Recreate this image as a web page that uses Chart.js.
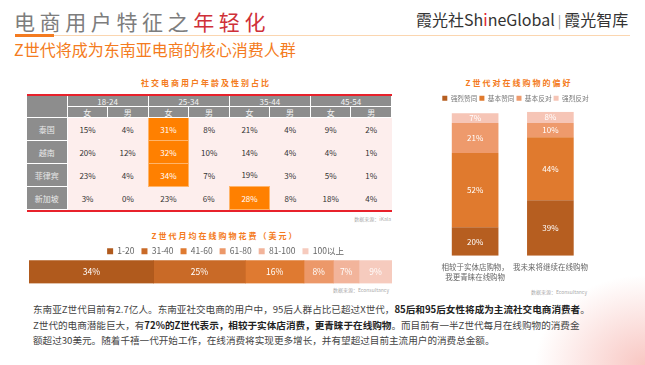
<!DOCTYPE html>
<html>
<head>
<meta charset="utf-8">
<script src="https://cdn.jsdelivr.net/npm/chart.js@4.4.0/dist/chart.umd.min.js"></script>
<style>
  html, body { margin: 0; padding: 0; }
  body {
    width: 645px; height: 365px; position: relative; overflow: hidden;
    background: radial-gradient(ellipse 110px 90px at 645px 365px, rgba(240,130,120,0.45), rgba(255,255,255,0) 100%), #fff;
    font-family: "Noto Sans CJK SC", "Noto Sans", sans-serif;
  }
  .abs { position: absolute; white-space: nowrap; }
  #title { left: 14px; top: 7px; font-size: 21px; letter-spacing: 4.6px; color: #7d7d7d; line-height: 28px; }
  #title span { color: #cf3038; }
  #logo { left: 416px; top: 8px; font-size: 16px; color: #333; line-height: 22px; }
  #logo .i { color: #e0242c; }
  #logo .sep { color: #999; font-size: 13px; margin: 0 3px; }
  #rule { left: 15px; top: 35px; width: 615px; height: 1px; background: #fbd6b0; }
  #ruleMark { left: 15px; top: 34px; width: 39px; height: 3px; background: #f47b20; }
  #subtitle { left: 14px; top: 38px; font-size: 16px; color: #f47b20; line-height: 22px; }
  .ctitle { font-size: 8px; font-weight: bold; color: #f47b20; letter-spacing: 2px; line-height: 10px; transform: translateX(-50%); }
  .src { font-size: 5px; color: #aaa; line-height: 6px; transform: translateX(-100%); }
  #tableWrap { left: 27px; top: 94px; width: 365px; border-top: 2px solid #e8212b; border-bottom: 2px solid #e8212b; }
  table { border-collapse: collapse; table-layout: fixed; width: 365px; font-size: 8px; }
  td { padding: 0; text-align: center; line-height: 9px; }
  td.hd { background: #8d8d8d; color: #f2f2f2; height: 10px; border: 1px solid #fff; border-top: 0; }
  td.rh { background: #8d8d8d; color: #e8e8e8; height: 22px; border: 1px solid #fff; border-left: 0; }
  td.cell { background: #fdeeed; color: #333; height: 22px; }
  td.hot { background: #ff8000; color: #fff; border: 1px solid #ffb469; }
  #para { left: 33px; top: 302px; font-size: 9.6px; line-height: 15.7px; color: #444; }
  #para b { color: #222; }
</style>
</head>
<body>
<div class="abs" id="title">电商用户特征之<span>年轻化</span></div>
<div class="abs" id="logo">霞光社Sh<span class="i">i</span>neGlobal<span class="sep">|</span>霞光智库</div>
<div class="abs" id="rule"></div>
<div class="abs" id="ruleMark"></div>
<div class="abs" id="subtitle">Z世代将成为东南亚电商的核心消费人群</div>

<div class="abs ctitle" style="left:206px; top:78px;">社交电商用户年龄及性别占比</div>
<div class="abs" id="tableWrap"><table id="shareTable"></table></div>
<div class="abs src" style="left:391px; top:216px;">数据来源：iKala</div>

<div class="abs ctitle" style="left:225px; top:231px;">Z世代月均在线购物花费（美元）</div>
<div class="abs" style="left:27px; top:236.5px; width:367px; height:48.5px;"><canvas id="spendChart"></canvas></div>
<div class="abs src" style="left:389px; top:287px;">数据来源：Econsultancy</div>

<div class="abs ctitle" style="left:519px; top:78px;">Z世代对在线购物的偏好</div>
<div class="abs" style="left:435px; top:93.3px; width:159px; height:195px;"><canvas id="prefChart"></canvas></div>
<div class="abs src" style="left:587px; top:289px;">数据来源：Econsultancy</div>

<div class="abs" id="para">东南亚Z世代目前有2.7亿人。东南亚社交电商的用户中，95后人群占比已超过X世代，<b>85后和95后女性将成为主流社交电商消费者</b>。<br>Z世代的电商潜能巨大，有<b>72%的Z世代表示，相较于实体店消费，更青睐于在线购物</b>。而目前有一半Z世代每月在线购物的消费金<br>额超过30美元。随着千禧一代开始工作，在线消费将实现更多增长，并有望超过目前主流用户的消费总金额。</div>

<script>
// 表：年龄・性别
const ageGroups = ['18-24', '25-34', '35-44', '45-54'];
const genders = ['女', '男'];
const countries = ['泰国', '越南', '菲律宾', '新加坡'];
const shareThailand = [15, 4, 31, 8, 21, 4, 9, 2];
const shareVietnam = [20, 12, 32, 10, 14, 4, 4, 1];
const sharePhilippines = [23, 4, 34, 7, 19, 3, 5, 1];
const shareSingapore = [3, 0, 23, 6, 28, 8, 18, 4];

// 月均花费
const spendBands = ['1-20', '31-40', '41-60', '61-80', '81-100', '100以上'];
const spendShares = [34, 25, 16, 8, 7, 9];
const spendColors = ['#b05a1d', '#c96a27', '#df7a31', '#ec9869', '#f2b49b', '#f6cbbe'];

// 偏好
const prefCategories = [['相较于实体店购物，', '我更青睐在线购物'], '我未来将继续在线购物'];
const prefLevels = ['强烈赞同', '基本赞同', '基本反对', '强烈反对'];
const prefStrongAgree = [20, 39];
const prefAgree = [52, 44];
const prefDisagree = [21, 10];
const prefStrongDisagree = [7, 8];
const prefColors = ['#b65e20', '#e07a2e', '#ee9a6c', '#f6c5b6'];

// table
const shareRows = [shareThailand, shareVietnam, sharePhilippines, shareSingapore];
let html = '<colgroup><col style="width:40px">';
for (let i = 0; i < 8; i++) html += '<col>';
html += '</colgroup><tr><td class="hd" rowspan="2" style="border-left:0"></td>';
ageGroups.forEach(a => { html += '<td class="hd" colspan="2">' + a + '</td>'; });
html += '</tr><tr>';
ageGroups.forEach(() => genders.forEach(g => { html += '<td class="hd">' + g + '</td>'; }));
html += '</tr>';
shareRows.forEach((row, r) => {
    const top = Math.max(...row);
    html += '<tr><td class="rh">' + countries[r] + '</td>';
    row.forEach(v => {
        html += '<td class="cell' + (v === top ? ' hot' : '') + '">' + v + '%</td>';
    });
    html += '</tr>';
});
document.getElementById('shareTable').innerHTML = html;

Chart.defaults.font.family = '"Noto Sans CJK SC", "Noto Sans", sans-serif';
Chart.defaults.animation = false;

const barLabels = {
    id: 'barLabels',
    afterDatasetsDraw(chart, args, opts) {
        const ctx = chart.ctx;
        chart.data.datasets.forEach((ds, i) => {
            chart.getDatasetMeta(i).data.forEach((bar, j) => {
                const p = bar.getCenterPoint();
                ctx.save();
                ctx.fillStyle = '#fff';
                ctx.font = opts.size + 'px "Noto Sans CJK SC", sans-serif';
                ctx.textAlign = 'center';
                ctx.textBaseline = 'middle';
                ctx.fillText(ds.data[j] + '%', p.x, p.y);
                ctx.restore();
            });
        });
    }
};

// 凡例の位置を微調整
const legendShift = {
    id: 'legendShift',
    afterUpdate(chart, args, opts) {
        chart.legend.left += opts.dx;
        chart.legend.right += opts.dx;
        chart.legend.top += opts.dy;
        chart.legend.bottom += opts.dy;
    }
};

const spendChart = new Chart(document.getElementById('spendChart'), {
    type: 'bar',
    data: {
        labels: [''],
        datasets: spendBands.map((b, i) => ({
            label: b,
            data: [spendShares[i]],
            backgroundColor: spendColors[i],
            barPercentage: 1,
            categoryPercentage: 1,
        }))
    },
    options: {
        indexAxis: 'y',
        responsive: true,
        maintainAspectRatio: false,
        layout: { padding: { left: 2, right: 2, top: 0, bottom: 2 } },
        scales: {
            x: { stacked: true, display: false, min: 0, max: spendShares.reduce((a, b) => a + b, 0) },
            y: { stacked: true, display: false },
        },
        plugins: {
            legend: {
                labels: { boxWidth: 6, boxHeight: 6, padding: 7, color: '#666', font: { size: 8.5 } }
            },
            tooltip: { enabled: false },
            barLabels: { size: 8.5 },
            legendShift: { dx: 15, dy: 3 },
        }
    },
    plugins: [barLabels, legendShift]
});

const prefData = [prefStrongAgree, prefAgree, prefDisagree, prefStrongDisagree];
const prefChart = new Chart(document.getElementById('prefChart'), {
    type: 'bar',
    data: {
        labels: prefCategories,
        datasets: prefLevels.map((l, i) => ({
            label: l,
            data: prefData[i],
            backgroundColor: prefColors[i],
            barPercentage: 0.62,
            categoryPercentage: 1,
        }))
    },
    options: {
        responsive: true,
        maintainAspectRatio: false,
        layout: { padding: { left: 2.5, right: 0.5, top: 0, bottom: 0 } },
        scales: {
            x: {
                stacked: true,
                grid: { display: false, drawTicks: false },
                border: { display: false },
                ticks: { color: '#666', font: { size: 7.5, lineHeight: 1.35 }, padding: 6, maxRotation: 0, autoSkip: false },
            },
            y: { stacked: true, display: false, min: 0, max: 101 },
        },
        plugins: {
            legend: {
                labels: { boxWidth: 5, boxHeight: 5, padding: 2, color: '#777', font: { size: 6.7 } }
            },
            tooltip: { enabled: false },
            barLabels: { size: 8 },
            legendShift: { dx: 0, dy: 0 },
        }
    },
    plugins: [barLabels, legendShift]
});
</script>
</body>
</html>
